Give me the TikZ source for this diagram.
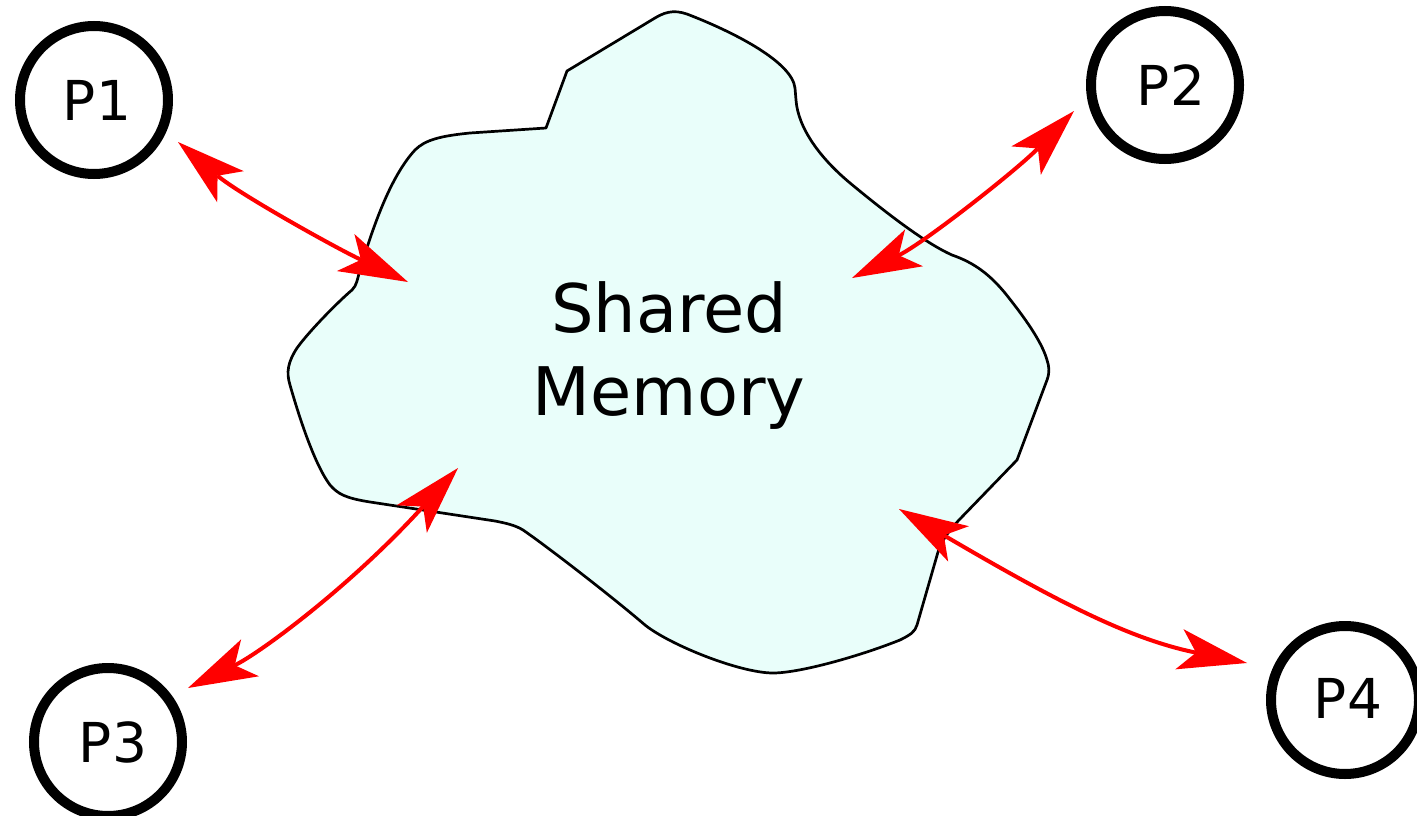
\documentclass[tikz,border=0pt]{standalone}
\usepackage{fontspec}
\setmainfont{DejaVu Sans}
\usetikzlibrary{arrows.meta}
\definecolor{cloudfill}{RGB}{233,254,250}
\tikzset{
  proc/.style={circle, draw=black, line width=10pt, minimum size=148pt, inner sep=0pt},
  plabel/.style={font=\fontsize{55}{66}\selectfont, inner sep=0pt},
  memtext/.style={align=center, inner sep=0pt, font=\fontsize{67}{83}\selectfont},
  cloudline/.style={draw=black, line width=2.7pt, fill=cloudfill, line join=round},
  link/.style={draw=red, line width=4pt,
    {Stealth[length=69pt,width=41pt,inset=17pt,line width=0pt]}-{Stealth[length=69pt,width=41pt,inset=17pt,line width=0pt]}}
}
\begin{document}
\begin{tikzpicture}[x=1pt,y=-1pt]
\useasboundingbox (0,0) rectangle (1417,816);
% cloud
\path[cloudline] (546,128) -- (567,71) -- (655,18)
  .. controls (668,10) and (678,10) .. (692,16)
  .. controls (735,33) and (792,62) .. (795,88) -- (796,100)
  .. controls (798,128) and (820,158) .. (850,183)
  .. controls (885,212) and (925,243) .. (952,255)
  .. controls (975,263) and (990,275) .. (1005,293)
  .. controls (1025,318) and (1042,342) .. (1047,360)
  .. controls (1049,366) and (1050,372) .. (1047,380)
  -- (1017,460) -- (959,520)
  .. controls (948,532) and (942,540) .. (938,552)
  -- (917,625)
  .. controls (915,632) and (910,635) .. (900,640)
  .. controls (860,656) and (800,673) .. (773,673)
  .. controls (740,673) and (670,645) .. (645,625)
  .. controls (610,595) and (545,545) .. (523,530)
  .. controls (515,525) and (505,523) .. (495,521)
  -- (370,502)
  .. controls (345,498) and (338,494) .. (330,485)
  .. controls (315,465) and (300,420) .. (290,385)
  .. controls (286,372) and (288,362) .. (297,348)
  .. controls (310,330) and (340,300) .. (352,290)
  .. controls (357,285) and (357,280) .. (360,270)
  .. controls (375,220) and (392,175) .. (415,150)
  .. controls (425,140) and (440,136) .. (470,133)
  -- cycle;
\node[memtext] (mem) at (669,356) {Shared\\Memory};
% processes
\node[proc] (p1) at (94,100) {};
\node[proc] (p2) at (1165,85) {};
\node[proc] (p3) at (108,742) {};
\node[proc] (p4) at (1345,700) {};
\node[plabel] (l1) at ([xshift=3pt]p1.center) {P1};
\node[plabel] (l2) at ([xshift=6pt]p2.center) {P2};
\node[plabel] (l3) at ([xshift=5pt]p3.center) {P3};
\node[plabel] (l4) at ([xshift=3pt,yshift=2pt]p4.center) {P4};
% connector ends
\path (p1) ++(84,42) coordinate (p1t);
\path (p2) ++(-91,26) coordinate (p2t);
\path (p3) ++(80,-54) coordinate (p3t);
\path (p4) ++(-98,-37) coordinate (p4t);
\coordinate (m1) at (408,282);
\coordinate (m2) at (852,278);
\coordinate (m3) at (458,468);
\coordinate (m4) at (899,509);
% links
\draw[link] (p1t) .. controls +(61,52) and +(-72,-34) .. (m1);
\draw[link] (p2t) .. controls +(-56,58) and +(72,-35) .. (m2);
\draw[link] (p3t) .. controls +(72,-35) and +(-107,118) .. (m3);
\draw[link] (p4t) .. controls +(-118,-24) and +(157,92) .. (m4);
\end{tikzpicture}
\end{document}
